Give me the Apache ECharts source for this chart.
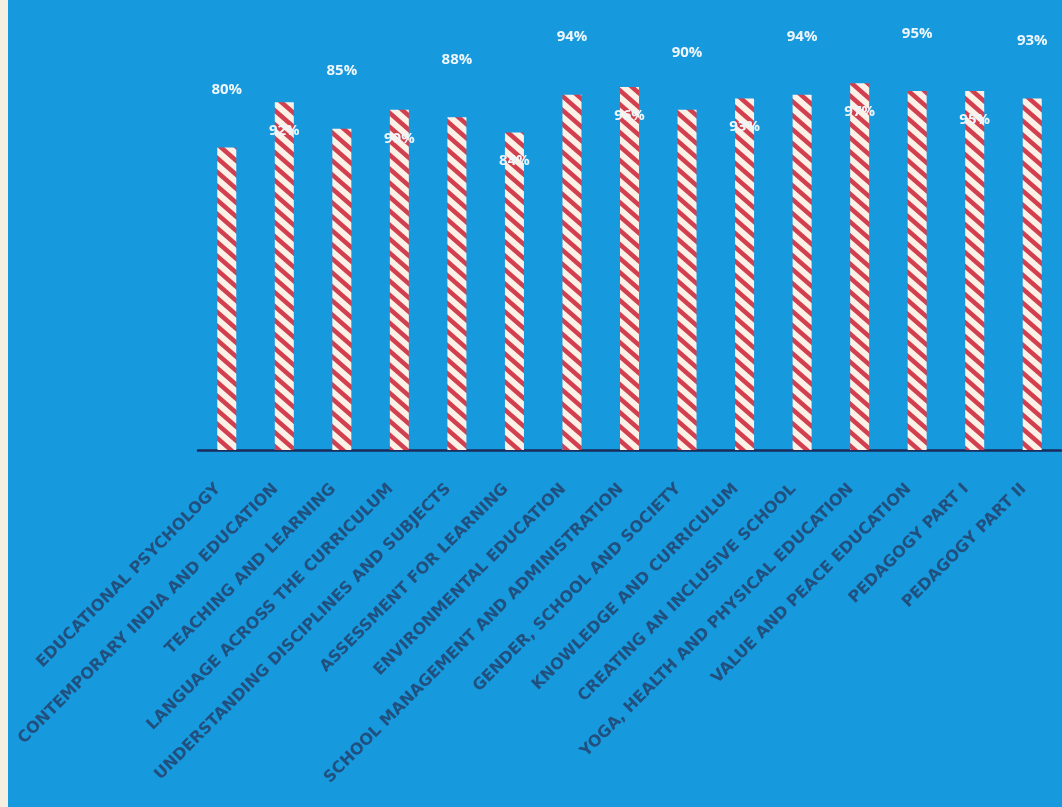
<!DOCTYPE html>
<html>
<head>
<meta charset="utf-8">
<script src="https://cdn.jsdelivr.net/npm/echarts@6/dist/echarts.min.js"></script>
<style>
  html, body { margin: 0; padding: 0; background: #f4efe0; }
  #chart { position: absolute; left: 8px; top: 0; width: 1054px; height: 807px; background: #1799de; }
</style>
</head>
<body>
<div id="chart"></div>
<script>
const categories = [
  'EDUCATIONAL PSYCHOLOGY',
  'CONTEMPORARY INDIA AND EDUCATION',
  'TEACHING AND LEARNING',
  'LANGUAGE ACROSS THE CURRICULUM',
  'UNDERSTANDING DISCIPLINES AND SUBJECTS',
  'ASSESSMENT FOR LEARNING',
  'ENVIRONMENTAL EDUCATION',
  'SCHOOL MANAGEMENT AND ADMINISTRATION',
  'GENDER, SCHOOL AND SOCIETY',
  'KNOWLEDGE AND CURRICULUM',
  'CREATING AN INCLUSIVE SCHOOL',
  'YOGA, HEALTH AND PHYSICAL EDUCATION',
  'VALUE AND PEACE EDUCATION',
  'PEDAGOGY PART I',
  'PEDAGOGY PART II'
]
const passRates = [80, 92, 85, 90, 88, 84, 94, 96, 90, 93, 94, 97, 95, 95, 93]

// red / cream diagonal stripes, like a barber pole
function stripePattern() {
  const w = 16, h = 14, t = 6
  const c = document.createElement('canvas')
  c.width = w
  c.height = h
  const ctx = c.getContext('2d')
  ctx.fillStyle = '#fbf1e6'
  ctx.fillRect(0, 0, w, h)
  ctx.fillStyle = '#d23f4f'
  for (let k = -2; k <= 1; k++) {
    ctx.beginPath()
    ctx.moveTo(0, k * h)
    ctx.lineTo(w, k * h + h)
    ctx.lineTo(w, k * h + h + t)
    ctx.lineTo(0, k * h + t)
    ctx.closePath()
    ctx.fill()
  }
  return c
}

const chart = echarts.init(document.getElementById('chart'))
const pattern = stripePattern()

const barData = passRates.map((v, i) => ({
  value: v,
  label: i % 2 === 0
    ? { position: 'top', distance: 50 }
    : { position: 'insideTop', distance: 21 }
}))

chart.setOption({
  backgroundColor: '#1799de',
  animation: false,
  grid: { left: 190, right: 1, top: 72, bottom: 357 },
  xAxis: {
    type: 'category',
    data: categories,
    axisLine: { lineStyle: { color: '#1b2b5a', width: 2.5 } },
    axisTick: { show: false },
    axisLabel: {
      interval: 0,
      rotate: 45,
      margin: 28,
      padding: [0, 12, 0, 0],
      color: '#21507e',
      fontFamily: 'DejaVu Sans',
      fontWeight: 'bold',
      fontSize: 16
    }
  },
  yAxis: { type: 'value', min: 0, max: 100, show: false },
  series: [{
    type: 'bar',
    barWidth: 19,
    data: barData,
    itemStyle: { color: { image: pattern, repeat: 'repeat' } },
    label: {
      show: true,
      formatter: '{c}%',
      color: '#eef6fc',
      fontFamily: 'Open Sans',
      fontWeight: 'bold',
      fontSize: 15
    }
  }]
})
</script>
</body>
</html>
